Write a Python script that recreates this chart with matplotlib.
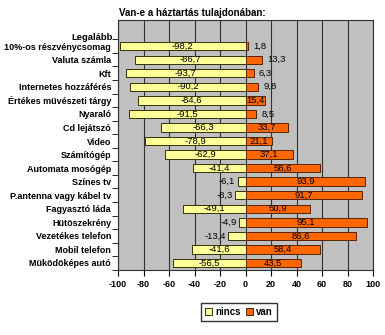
import matplotlib
matplotlib.use("Agg")
import matplotlib.pyplot as plt
import numpy as np

# adatok (felülről lefelé)
categories = ["10%-os részvénycsomag", "Valuta számla", "Kft", "Internetes hozzáférés",
              "Értékes müvészeti tárgy", "Nyaraló", "Cd lejátszó", "Video", "Számítógép",
              "Automata mosógép", "Színes tv", "P.antenna vagy kábel tv", "Fagyasztó láda",
              "Hütöszekrény", "Vezetékes telefon", "Mobil telefon", "Müködöképes autó"]
nincs = [-98.2, -86.7, -93.7, -90.2, -84.6, -91.5, -66.3, -78.9, -62.9,
         -41.4, -6.1, -8.3, -49.1, -4.9, -13.4, -41.6, -56.5]
van = [1.8, 13.3, 6.3, 9.8, 15.4, 8.5, 33.7, 21.1, 37.1,
       58.6, 93.9, 91.7, 50.9, 95.1, 86.6, 58.4, 43.5]
xticks = [-100, -80, -60, -40, -20, 0, 20, 40, 60, 80, 100]

plt.rcParams['font.family'] = ['Liberation Sans', 'DejaVu Sans']

fig = plt.figure(figsize=(3.85, 3.35), dpi=100)
ax = fig.add_axes([118 / 385, 1 - 270 / 335, (373 - 118) / 385, (270 - 20) / 335])
ax.set_facecolor('#c0c0c0')

y = np.arange(len(categories))
h = 0.62
ax.barh(y, nincs, height=h, color='#ffff99', edgecolor='#333300', linewidth=0.7, label='nincs', zorder=3)
ax.barh(y, van, height=h, color='#ff6600', edgecolor='#552200', linewidth=0.7, label='van', zorder=3)

def fmt(v):
    return ('%.1f' % v).replace('.', ',')

for i in range(len(categories)):
    if abs(nincs[i]) < 15:
        ax.text(nincs[i] - 2, i, fmt(nincs[i]), ha='right', va='center', fontsize=6.8, zorder=4)
    else:
        ax.text(nincs[i] / 2, i, fmt(nincs[i]), ha='center', va='center', fontsize=6.8, zorder=4)
    if van[i] < 15:
        ax.text(van[i] + 4, i, fmt(van[i]), ha='left', va='center', fontsize=6.8, zorder=4)
    else:
        ax.text(van[i] / 2, i, fmt(van[i]), ha='center', va='center', fontsize=6.8, zorder=4)

ax.set_xlim(-100, 100)
ax.set_ylim(len(categories) - 1 + 0.52, -1.93)
ax.set_xticks(xticks)
ax.set_xticklabels([str(t) for t in xticks], fontsize=6.5, fontweight='bold')
ax.set_yticks(y)
ax.set_yticklabels(categories, fontsize=6.5, fontweight='bold')
ax.tick_params(axis='y', length=0, pad=5)
ax.set_yticks(np.arange(-0.5, len(categories)), minor=True)
ax.tick_params(axis='y', which='minor', length=4, direction='out')
ax.tick_params(axis='x', length=4, direction='out', pad=3)
ax.xaxis.grid(True, color='#303030', linewidth=0.8, zorder=0)
ax.set_axisbelow(True)
for s in ax.spines.values():
    s.set_color('#303030')
    s.set_linewidth(0.8)

ax.text(-0.02, 1 - (37 - 20) / 250, "Legalább", transform=ax.transAxes, ha='right', va='center',
        fontsize=6.8, fontweight='bold')

fig.text(192 / 385, 1 - 13 / 335, "Van-e a háztartás tulajdonában:", ha='center', va='center',
         fontsize=7, fontweight='bold')

leg = fig.legend(loc='center', bbox_to_anchor=(239 / 385, 1 - 312 / 335), ncol=2, fontsize=7,
                 frameon=True, fancybox=False, edgecolor='black', handlelength=0.7, handleheight=0.7,
                 handletextpad=0.3, columnspacing=0.6, borderpad=0.4)
for t in leg.get_texts():
    t.set_fontweight('bold')

fig.savefig("out.png", dpi=100)
